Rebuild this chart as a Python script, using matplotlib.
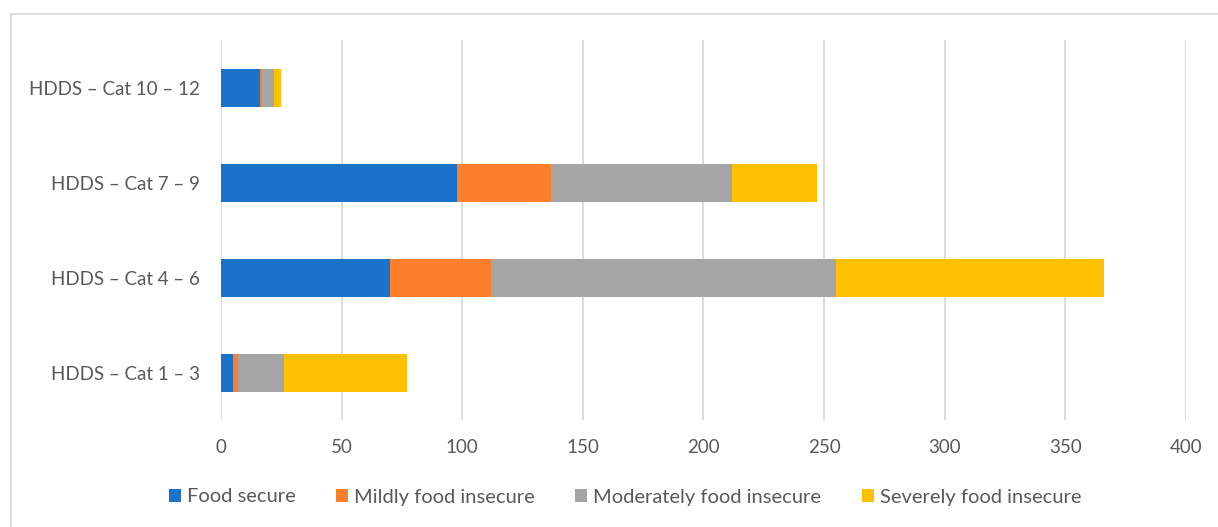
import matplotlib.pyplot as plt
from matplotlib.patches import Rectangle
import numpy as np

categories = ['HDDS – Cat 1 – 3', 'HDDS – Cat 4 – 6', 'HDDS – Cat 7 – 9', 'HDDS – Cat 10 – 12']
food_secure = [5, 70, 98, 16]
mildly = [2, 42, 39, 1]
moderately = [19, 143, 75, 5]
severely = [51, 111, 35, 3]
series_names = ['Food secure', 'Mildly food insecure', 'Moderately food insecure', 'Severely food insecure']
colors = ['#1a72c9', '#fd7f2c', '#a5a5a5', '#ffc000']

plt.rcParams['font.family'] = ['Lato', 'DejaVu Sans']

fig = plt.figure(figsize=(12.18, 5.27), dpi=100)
ax = fig.add_axes([0.1814, 0.2030, 0.7923, 0.7211])

y = np.arange(len(categories))
left = np.zeros(len(categories))
for vals, name, c in zip([food_secure, mildly, moderately, severely], series_names, colors):
    ax.barh(y, vals, left=left, height=0.4, color=c, label=name, zorder=3)
    left = left + np.array(vals)

ax.set_xlim(0, 400)
ax.set_ylim(-0.5, 3.5)
ax.set_xticks(range(0, 401, 50))
ax.set_yticks(y)
ax.set_yticklabels(categories)
ax.grid(axis='x', color='#d9d9d9', linewidth=1.3, zorder=0)
for s in ax.spines.values():
    s.set_visible(False)
ax.tick_params(length=0, labelsize=13.5, colors='#595959')
ax.tick_params(axis='y', pad=15)
ax.tick_params(axis='x', pad=14)

ax.legend(loc='center', bbox_to_anchor=(625 / 1218, 1 - 497 / 527), bbox_transform=fig.transFigure,
          ncol=4, frameon=False, fontsize=14.5, labelcolor='#595959', handlelength=0.6, handleheight=0.6,
          columnspacing=2.0, handletextpad=0.3)

fig.patches.append(Rectangle((11 / 1218, -0.1), 1.2, 1 - 14 / 527 + 0.1, transform=fig.transFigure,
                             fill=False, edgecolor='#d9d9d9', linewidth=1.3))

fig.savefig('out.png', dpi=100)
